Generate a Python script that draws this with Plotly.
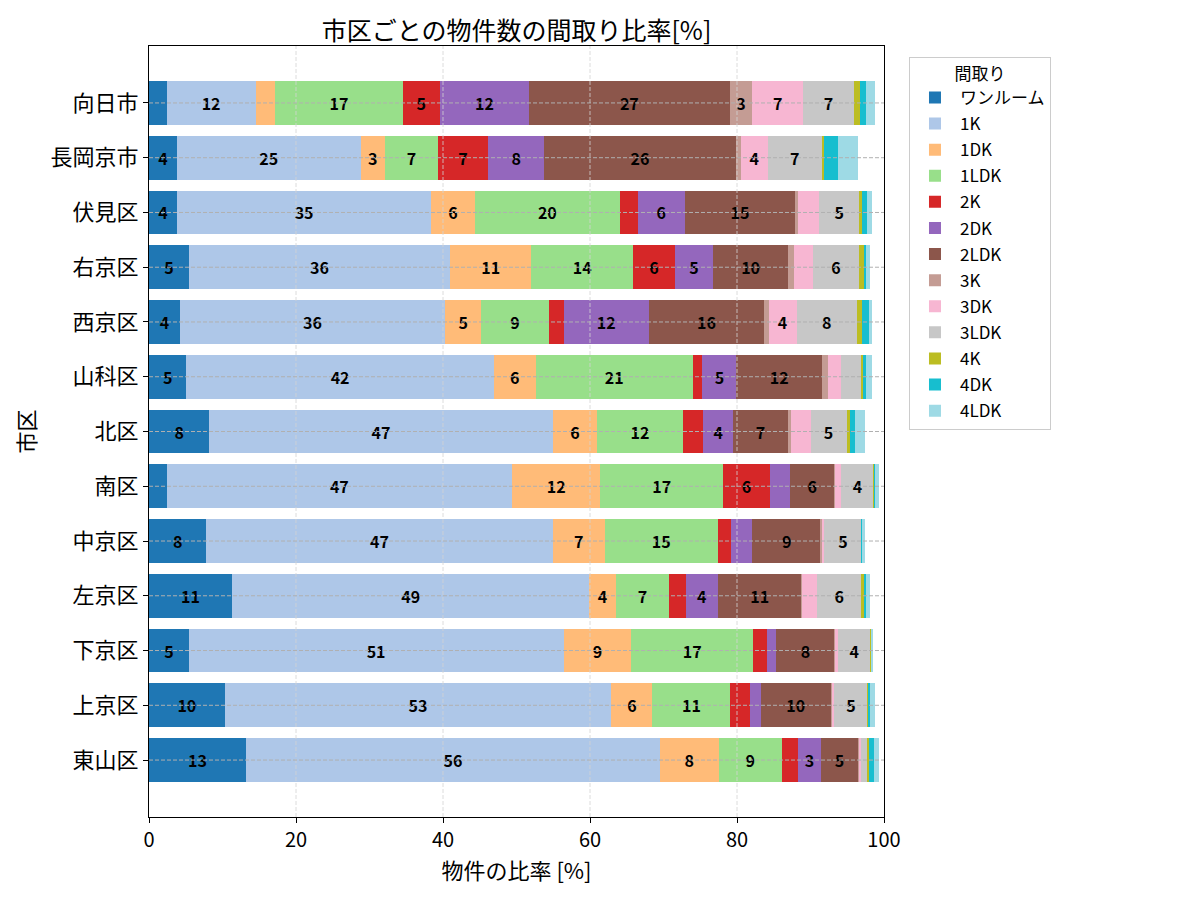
import plotly.graph_objects as go

# districts, top to bottom
districts = ["向日市", "長岡京市", "伏見区", "右京区", "西京区", "山科区", "北区",
             "南区", "中京区", "左京区", "下京区", "上京区", "東山区"]

layouts = ["ワンルーム", "1K", "1DK", "1LDK", "2K", "2DK", "2LDK",
           "3K", "3DK", "3LDK", "4K", "4DK", "4LDK"]

# share of listings [%] per layout, in district order
one_room = [2.4, 3.8, 3.8, 5.4, 4.2, 5.1, 8.2, 2.4, 7.8, 11.3, 5.4, 10.3, 13.2]
k1 = [12.1, 25.0, 34.6, 35.6, 36.1, 41.8, 46.7, 47.0, 47.1, 48.6, 51.0, 52.6, 56.3]
dk1 = [2.7, 3.3, 5.9, 11.0, 4.9, 5.7, 6.1, 12.0, 7.1, 3.6, 9.2, 5.6, 8.0]
ldk1 = [17.3, 7.2, 19.8, 13.9, 9.2, 21.4, 11.6, 16.7, 15.4, 7.3, 16.6, 10.6, 8.6]
k2 = [5.1, 6.8, 2.4, 5.6, 2.0, 1.3, 2.8, 6.4, 1.8, 2.2, 1.9, 2.7, 2.2]
dk2 = [12.1, 7.7, 6.4, 5.3, 11.6, 4.6, 4.1, 2.7, 2.9, 4.4, 1.2, 1.4, 3.1]
ldk2 = [27.3, 26.0, 15.0, 10.1, 15.7, 11.7, 7.4, 6.1, 9.3, 11.4, 8.0, 9.6, 5.1]
k3 = [3.1, 0.7, 0.4, 0.8, 0.6, 0.8, 0.4, 0.1, 0.1, 0.1, 0.1, 0.1, 0.05]
dk3 = [6.9, 3.7, 2.9, 2.6, 3.8, 1.7, 2.7, 0.8, 0.4, 2.0, 0.4, 0.3, 0.3]
ldk3 = [6.9, 7.3, 5.4, 6.3, 8.2, 2.9, 4.9, 4.4, 5.0, 6.0, 4.3, 4.6, 0.8]
k4 = [0.8, 0.4, 0.4, 0.7, 0.7, 0.2, 0.5, 0.1, 0.1, 0.4, 0.15, 0.1, 0.3]
dk4 = [0.8, 1.8, 0.7, 0.3, 0.9, 0.3, 0.6, 0.1, 0.05, 0.3, 0.05, 0.15, 0.7]
ldk4 = [1.3, 2.8, 0.6, 0.5, 0.5, 0.9, 1.4, 0.5, 0.4, 0.5, 0.1, 0.7, 0.7]

x_ticks = [0, 20, 40, 60, 80, 100]

series = [one_room, k1, dk1, ldk1, k2, dk2, ldk2, k3, dk3, ldk3, k4, dk4, ldk4]
colors = ["#1f77b4", "#aec7e8", "#ffbb78", "#98df8a", "#d62728", "#9467bd", "#8c564b",
          "#c49c94", "#f7b6d2", "#c7c7c7", "#bcbd22", "#17becf", "#9edae5"]

FONT = "Noto Sans CJK JP"

fig = go.Figure()
for name, vals, col in zip(layouts, series, colors):
    labels = [f"{v:.0f}" if v >= 3 else "" for v in vals]
    fig.add_trace(go.Bar(
        y=districts, x=vals, name=name, orientation="h", width=0.8,
        legendgroup=name,
        marker=dict(color=col, line=dict(width=0)),
        text=labels, textposition="inside", insidetextanchor="middle",
        textangle=0, constraintext="none",
        textfont=dict(family=FONT, size=16, color="black", weight="bold"),
    ))

# dashed grid drawn over the bars like the original
shapes = []
for t in x_ticks[1:-1]:
    shapes.append(dict(type="line", xref="x", yref="paper", x0=t, x1=t, y0=0, y1=1,
                       line=dict(color="#d3d3d3", width=0.8, dash="4px,2px"), layer="above"))
for d in districts:
    shapes.append(dict(type="line", xref="paper", yref="y", x0=0, x1=1, y0=d, y1=d,
                       line=dict(color="#b0b0b0", width=1, dash="4px,2px"), layer="above"))

n = len(districts)
# page body adds ~8px offset, margins compensate for it
fig.update_layout(
    width=1200, height=900,
    barmode="stack",
    plot_bgcolor="white", paper_bgcolor="white",
    margin=dict(l=141, r=324, t=38, b=91, autoexpand=False),
    font=dict(family=FONT, color="black"),
    title=dict(text="市区ごとの物件数の間取り比率[%]", x=(141 + 876) / 2 / 1200, xanchor="center",
               y=1 - 23 / 900, yanchor="middle", font=dict(size=25)),
    xaxis=dict(range=[0, 100], tickvals=x_ticks, showgrid=False, zeroline=False,
               automargin=False,
               showline=True, linecolor="black", linewidth=1.2, mirror=True,
               ticks="outside", ticklen=5, tickcolor="black",
               tickfont=dict(size=20),
               title=dict(text="物件の比率 [%]", font=dict(size=22), standoff=4)),
    yaxis=dict(categoryorder="array", categoryarray=districts,
               range=[n - 1 + 1.04, -1.04], showgrid=False, zeroline=False,
               automargin=False,
               showline=True, linecolor="black", linewidth=1.2, mirror=True,
               ticks="outside", ticklen=5, tickcolor="black",
               tickfont=dict(size=22),
               title=dict(text="市区", font=dict(size=22), standoff=8)),
    legend=dict(title=dict(text="間取り", side="top center", font=dict(size=17)),
                x=1.034, xanchor="left", y=0.986, yanchor="top",
                bordercolor="#cccccc", borderwidth=1, font=dict(size=17),
                traceorder="grouped", itemwidth=40, tracegroupgap=1),
    shapes=shapes,
    bargap=0.2,
)

fig.write_html("out.html")
